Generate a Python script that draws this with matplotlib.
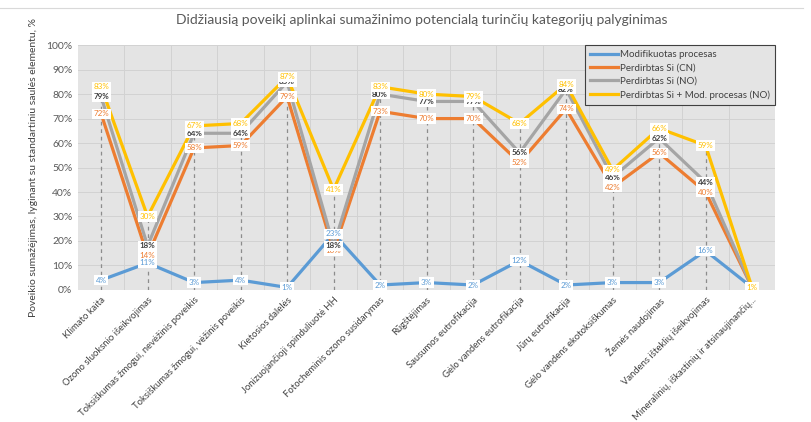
import matplotlib
matplotlib.use("Agg")
import matplotlib.pyplot as plt
import numpy as np

plt.rcParams['font.family'] = ['Lato', 'DejaVu Sans']

categories = [
    "Klimato kaita",
    "Ozono sluoksnio išeikvojimas",
    "Toksiškumas žmogui, nevėžinis poveikis",
    "Toksiškumas žmogui, vėžinis poveikis",
    "Kietosios dalelės",
    "Jonizuojančioji spinduliuotė HH",
    "Fotocheminis ozono susidarymas",
    "Rūgštėjimas",
    "Sausumos eutrofikacija",
    "Gėlo vandens eutrofikacija",
    "Jūrų eutrofikacija",
    "Gėlo vandens ekotoksiškumas",
    "Žemės naudojimas",
    "Vandens išteklių išeikvojimas",
    "Mineralinių, iškastinių ir atsinaujinančių...",
]

modifikuotas = [4, 11, 3, 4, 1, 23, 2, 3, 2, 12, 2, 3, 3, 16, 1]
perdirbtas_cn = [72, 14, 58, 59, 79, 16, 73, 70, 70, 52, 74, 42, 56, 40, 1]
perdirbtas_no = [79, 18, 64, 64, 85, 18, 80, 77, 77, 56, 82, 46, 62, 44, 1]
perdirbtas_mod = [83, 30, 67, 68, 87, 41, 83, 80, 79, 68, 84, 49, 66, 59, 1]

series = [
    ("Modifikuotas procesas", modifikuotas, "#5B9BD5", "#5B9BD5"),
    ("Perdirbtas Si (CN)", perdirbtas_cn, "#ED7D31", "#ED7D31"),
    ("Perdirbtas Si (NO)", perdirbtas_no, "#A5A5A5", "#404040"),
    ("Perdirbtas Si + Mod. procesas (NO)", perdirbtas_mod, "#FFC000", "#FFC000"),
]

fig = plt.figure(figsize=(8.11, 4.22), dpi=100)
ax = fig.add_axes([0.096, 0.313, 0.860, 0.580])
ax.set_facecolor("#E4E4E4")

x = np.arange(len(categories))
ax.set_xlim(-0.5, len(categories) - 0.5)
ax.set_ylim(0, 100)

# grid: horizontal at every 10%, vertical at category boundaries
for yv in range(10, 101, 10):
    ax.axhline(yv, color="#D2D2D2", lw=0.7, zorder=0)
for xv in np.arange(0.5, len(categories) - 0.5, 1):
    ax.axvline(xv, color="#D2D2D2", lw=0.7, zorder=0)

# drop lines from the highest point down to the axis
tops = np.max(np.array([s[1] for s in series]), axis=0)
ax.vlines(x, 0, tops, colors="#8C8C8C", linestyles=(0, (3, 3)), lw=0.9, zorder=1)

for i, (name, vals, col, tcol) in enumerate(series):
    ax.plot(x, vals, color=col, lw=2.3, label=name, zorder=2 + i,
            solid_joinstyle="round")

label_z = {0: 8, 1: 6, 2: 7, 3: 9}
for i, (name, vals, col, tcol) in enumerate(series):
    for xi, v in zip(x, vals):
        if i != 3 and xi == len(categories) - 1:
            continue
        ax.text(xi, v, f"{v}%", ha="center", va="center", fontsize=5.8,
                color=tcol, fontweight="bold" if i == 2 else "normal",
                bbox=dict(boxstyle="square,pad=0.2", fc="white", ec="none"),
                zorder=label_z[i])

ax.set_yticks(range(0, 101, 10))
ax.set_yticklabels([f"{v}%" for v in range(0, 101, 10)], fontsize=7.5, color="#595959")
ax.set_xticks(x)
ax.set_xticklabels(categories, rotation=45, ha="right", rotation_mode="anchor",
                   fontsize=6.8, color="#404040")
ax.tick_params(axis="both", length=0, pad=4)
for sp in ax.spines.values():
    sp.set_visible(False)

ax.set_ylabel("Poveikio sumažėjimas, lyginant su standartiniu saulės elementu, %",
              fontsize=7.5, color="#404040", labelpad=6)

fig.text(0.52, 0.952, "Didžiausią poveikį aplinkai sumažinimo potencialą turinčių kategorijų palyginimas",
         ha="center", va="center", fontsize=10, color="#595959")

leg = ax.legend(loc="upper right", bbox_to_anchor=(1.0, 1.0), fontsize=7,
                frameon=True, fancybox=False, borderaxespad=0, handlelength=2.8,
                handletextpad=0.3, labelspacing=0.45, borderpad=0.5)
leg.get_frame().set_facecolor("#E4E4E4")
leg.get_frame().set_edgecolor("#404040")
leg.get_frame().set_linewidth(0.8)
leg.get_frame().set_alpha(1)
for t in leg.get_texts():
    t.set_color("#404040")

# thin rule across the top of the chart
fig.add_artist(plt.Line2D([0.0, 0.99], [0.98, 0.98], color="#D9D9D9", lw=0.8))

fig.savefig("out.png", dpi=100)
